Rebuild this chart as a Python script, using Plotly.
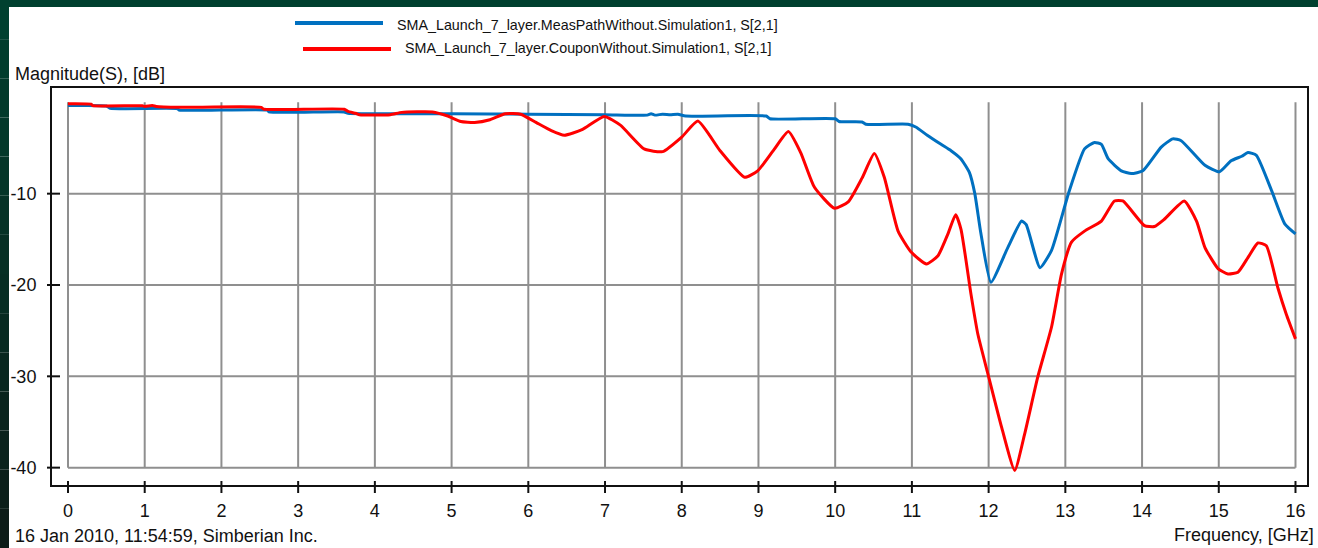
import plotly.graph_objects as go

# ---- data: |S21| in dB versus frequency in GHz ----
meas_freq = [0, 0.5, 0.55, 1.43, 1.45, 2.6, 2.62, 3.6, 3.65, 5.0, 6.0, 7.0, 7.55, 7.6, 7.65,
             7.75, 7.85, 7.95, 8.05, 9.1, 9.15, 10.0, 10.05, 10.35, 10.4, 10.95, 11.05, 11.2,
             11.38, 11.51, 11.64, 11.75, 11.82, 11.9, 12.03, 12.25, 12.43, 12.49, 12.67, 12.82,
             13.04, 13.25, 13.38, 13.47, 13.56, 13.73, 13.86, 14.01, 14.25, 14.4, 14.51, 14.82,
             15.01, 15.16, 15.3, 15.38, 15.49, 15.69, 15.86, 16.0]
meas_db = [-0.35, -0.4, -0.65, -0.7, -0.85, -0.85, -1.05, -1.05, -1.2, -1.25, -1.3, -1.35, -1.4,
           -1.25, -1.4, -1.3, -1.35, -1.3, -1.5, -1.5, -1.8, -1.8, -2.1, -2.15, -2.4, -2.4, -2.7,
           -3.6, -4.6, -5.3, -6.2, -7.7, -10.0, -14.4, -19.7, -15.9, -13.0, -13.4, -18.1, -16.2,
           -10.0, -5.1, -4.4, -4.6, -6.2, -7.5, -7.8, -7.5, -4.9, -4.0, -4.2, -6.9,
           -7.6, -6.4, -5.9, -5.5, -5.8, -9.7, -13.3, -14.4]

coupon_freq = [0, 0.3, 0.32, 0.97, 1.0, 1.1, 1.15, 1.45, 2.52, 2.55, 3.6, 3.65, 3.75, 3.8, 4.2,
               4.35, 4.75, 4.95, 5.12, 5.3, 5.5, 5.7, 5.9, 6.1, 6.3, 6.47, 6.7, 6.99, 7.2, 7.51,
               7.75, 8.0, 8.21, 8.5, 8.82, 8.99, 9.2, 9.39, 9.55, 9.73, 9.99, 10.17, 10.35, 10.51,
               10.64, 10.82, 10.99, 11.19, 11.34, 11.47, 11.57, 11.64, 11.77, 11.86, 11.99, 12.17,
               12.34, 12.47, 12.64, 12.82, 12.95, 13.08, 13.25, 13.47, 13.64, 13.75, 14.03, 14.16,
               14.29, 14.55, 14.71, 14.82, 14.99, 15.12, 15.25, 15.38, 15.51, 15.62, 15.77, 15.88,
               16.0]
coupon_db = [-0.15, -0.2, -0.35, -0.38, -0.45, -0.35, -0.45, -0.55, -0.55, -0.75, -0.75, -1.0,
             -1.2, -1.35, -1.35, -1.1, -1.05, -1.5, -2.1, -2.2, -1.9, -1.25, -1.3, -2.2, -3.1,
             -3.6, -3.0, -1.55, -2.5, -5.1, -5.4, -3.8, -2.05, -5.3, -8.2, -7.5, -5.2, -3.2, -5.5,
             -9.3, -11.6, -10.9, -8.3, -5.6, -8.2, -14.1, -16.4, -17.7, -16.8, -14.4, -12.3,
             -13.9, -21.0, -25.4, -29.7, -35.6, -40.3, -36.3, -30.1, -24.6, -18.8, -15.3, -14.1,
             -13.0, -10.8, -10.8, -13.5, -13.6, -12.8, -10.8, -13.0, -15.9, -18.2, -18.8, -18.6,
             -17.0, -15.4, -15.7, -20.3, -23.2, -25.9]

x_ticks = list(range(0, 17))
y_ticks = [-10, -20, -30, -40]
y_top = 0

series_names = ["SMA_Launch_7_layer.MeasPathWithout.Simulation1, S[2,1]",
                "SMA_Launch_7_layer.CouponWithout.Simulation1, S[2,1]"]
series_colors = ["#0070c0", "#ff0000"]

# ---- page geometry (pixels) ----
W, H = 1318, 548
L, R, T, B = 52, 1307, 88, 485
FONT = "Liberation Sans, Arial, sans-serif"
FS = 18
FS_LEG = 14.3
INK = "#111"


def px_x(p):
    return (p - L) / (R - L)


def px_y(p):
    return (B - p) / (B - T)


fig = go.Figure()
for fx, fy, name, col in [(meas_freq, meas_db, series_names[0], series_colors[0]),
                          (coupon_freq, coupon_db, series_names[1], series_colors[1])]:
    fig.add_trace(go.Scatter(x=fx, y=fy, mode="lines", name=name,
                             line=dict(color=col, width=3, shape="spline", smoothing=0.5),
                             showlegend=False))

shapes = []
# dark green slide background around the white panel
n_seg = 14
top_c = (0, 64, 47)
bot_c = (12, 28, 24)
for i in range(n_seg):
    t = i / (n_seg - 1)
    c = tuple(round(top_c[k] + (bot_c[k] - top_c[k]) * t) for k in range(3))
    shapes.append(dict(type="rect", xref="paper", yref="paper", layer="below",
                       x0=px_x(0), x1=px_x(9), y0=px_y(H * (i + 1) / n_seg), y1=px_y(H * i / n_seg),
                       fillcolor="rgb(%d,%d,%d)" % c, line=dict(width=0)))
shapes.append(dict(type="rect", xref="paper", yref="paper", layer="below",
                   x0=px_x(0), x1=px_x(W), y0=px_y(7), y1=px_y(0),
                   fillcolor="rgb(0,64,47)", line=dict(width=0)))

# grid limited to the data span
for xv in x_ticks:
    shapes.append(dict(type="line", xref="x", yref="y", layer="below",
                       x0=xv, x1=xv, y0=y_ticks[-1], y1=y_top,
                       line=dict(color="#8f8f8f", width=2)))
for yv in y_ticks:
    shapes.append(dict(type="line", xref="x", yref="y", layer="below",
                       x0=x_ticks[0], x1=x_ticks[-1], y0=yv, y1=yv,
                       line=dict(color="#8f8f8f", width=2)))
# tick marks crossing the frame
for xv in x_ticks:
    shapes.append(dict(type="line", xref="x", yref="paper",
                       x0=xv, x1=xv, y0=px_y(481), y1=px_y(493),
                       line=dict(color=INK, width=2)))
for yv in y_ticks:
    shapes.append(dict(type="line", xref="paper", yref="y",
                       x0=px_x(47), x1=px_x(60), y0=yv, y1=yv,
                       line=dict(color=INK, width=2)))

# legend samples
legend_rows = [(295, 383, 23, 395, 25), (303, 391, 49, 403, 48)]
annotations = []
for (xa, xb, ly, tx, ty), name, col in zip(legend_rows, series_names, series_colors):
    shapes.append(dict(type="line", xref="paper", yref="paper",
                       x0=px_x(xa), x1=px_x(xb), y0=px_y(ly), y1=px_y(ly),
                       line=dict(color=col, width=4)))
    annotations.append(dict(xref="paper", yref="paper", x=px_x(tx), y=px_y(ty),
                            xanchor="left", yanchor="middle", showarrow=False, text=name,
                            font=dict(family=FONT, size=FS_LEG, color=INK)))

annotations += [
    dict(xref="paper", yref="paper", x=px_x(13), y=px_y(74), xanchor="left", yanchor="middle",
         showarrow=False, text="Magnitude(S), [dB]", font=dict(family=FONT, size=FS, color=INK)),
    dict(xref="paper", yref="paper", x=px_x(13), y=px_y(536), xanchor="left", yanchor="middle",
         showarrow=False, text="16 Jan 2010, 11:54:59, Simberian Inc.",
         font=dict(family=FONT, size=FS, color=INK)),
    dict(xref="paper", yref="paper", x=px_x(1316), y=px_y(535), xanchor="right", yanchor="middle",
         showarrow=False, text="Frequency, [GHz]", font=dict(family=FONT, size=FS, color=INK)),
]

axis_common = dict(showgrid=False, zeroline=False, showline=True, mirror=True,
                   linecolor=INK, linewidth=2, ticks="", automargin=False,
                   tickfont=dict(family=FONT, size=FS, color=INK))

fig.update_layout(
    template="none",
    width=W, height=H,
    margin=dict(l=L, r=W - R, t=T, b=H - B, pad=0),
    paper_bgcolor="white", plot_bgcolor="white",
    xaxis=dict(range=[-0.2085, 16.15], tickvals=x_ticks, ticktext=[str(v) for v in x_ticks],
               ticklabelstandoff=8, **axis_common),
    yaxis=dict(range=[-41.9, 1.57], tickvals=y_ticks, ticktext=[str(v) for v in y_ticks],
               ticklabelstandoff=10, **axis_common),
    shapes=shapes, annotations=annotations,
)

fig.write_html("out.html")
